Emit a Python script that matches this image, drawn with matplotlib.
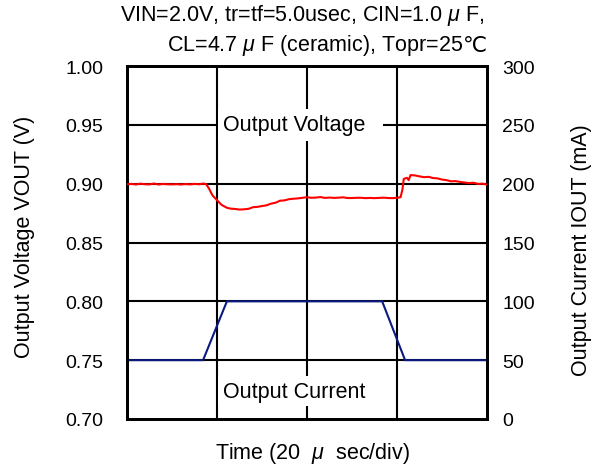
import matplotlib
matplotlib.use("Agg")
import matplotlib.pyplot as plt
from matplotlib.patches import Rectangle

plt.rcParams['font.family'] = ['Liberation Sans', 'DejaVu Sans']
plt.rcParams['mathtext.fontset'] = 'custom'
plt.rcParams['mathtext.rm'] = 'Liberation Sans'
plt.rcParams['mathtext.it'] = 'Liberation Sans:italic'

# Time axis in microseconds (20 us/div, 4 divisions)
v_time = [0, 1, 2, 3, 4, 5, 6, 7, 8, 9, 10, 11, 12, 13, 14, 15, 16, 17, 17.6, 18.2, 19,
          20, 21, 22.2, 23, 24, 25, 26, 27, 28, 29, 30, 31, 32, 33, 34, 35, 36, 37, 38,
          39, 40, 41, 42, 43, 44, 45, 46, 47, 48, 49, 50, 51, 52, 53, 54, 55, 56, 57, 58,
          59, 60, 60.8, 61.2, 61.5, 62.2, 62.6, 63, 64, 65, 66, 67, 68, 69, 70, 71, 72,
          73, 74, 75, 76, 77, 78, 79, 80]
v_out = [0.8995, 0.8998, 0.8993, 0.9000, 0.8995, 0.8994, 0.9001, 0.8993, 0.8998, 0.8995,
         0.8994, 0.8996, 0.8993, 0.8997, 0.8994, 0.8998, 0.8995, 0.9001, 0.8995,
         0.8960, 0.8900, 0.8860, 0.8820, 0.8795, 0.8788, 0.8785, 0.8780, 0.8782, 0.8786,
         0.8800, 0.8803, 0.8810, 0.8816, 0.8830, 0.8838, 0.8855, 0.8858, 0.8868, 0.8872,
         0.8875, 0.8880, 0.8885, 0.8880, 0.8882, 0.8886, 0.8879, 0.8882, 0.8879, 0.8881,
         0.8884, 0.8878, 0.8878, 0.8880, 0.8880, 0.8877, 0.8879, 0.8877, 0.8879, 0.8881,
         0.8878, 0.8877, 0.8880, 0.8885, 0.8950, 0.9040, 0.9050, 0.9030, 0.9073, 0.9070,
         0.9062, 0.9055, 0.9058, 0.9048, 0.9045, 0.9035, 0.9030, 0.9020, 0.9022, 0.9015,
         0.9010, 0.9005, 0.9008, 0.8998, 0.9000, 0.8992]

i_time = [0, 16.9, 22.2, 56.7, 61.8, 80]
i_out = [50, 50, 100, 100, 50, 50]

v_ticks = [0.70, 0.75, 0.80, 0.85, 0.90, 0.95, 1.00]
i_ticks = [0, 50, 100, 150, 200, 250, 300]
t_grid = [20, 40, 60]

W, H = 608, 477
fig = plt.figure(figsize=(W/100, H/100), dpi=100)
ax = fig.add_axes([127/W, 1-420/H, 360/W, 353/H])
ax2 = ax.twinx()

FS = 14
LFS = 15.5
ax.set_xlim(0, 80)
ax.set_ylim(0.70, 1.00)
ax2.set_ylim(0, 300)
ax.set_yticks(v_ticks)
ax.set_yticklabels([f"{v:.2f}" for v in v_ticks], fontsize=FS)
ax2.set_yticks(i_ticks)
ax2.set_yticklabels([str(v) for v in i_ticks], fontsize=FS)
ax.set_xticks([])
ax.tick_params(axis='y', length=0, pad=17)
ax2.tick_params(axis='y', length=0, pad=11)

# grid drawn on the back axes so both traces lie over it
for y in i_ticks[1:-1]:
    ax2.axhline(y, color='black', lw=1.5, zorder=1)
for x in t_grid:
    ax2.axvline(x, color='black', lw=1.5, zorder=1)

for a in (ax, ax2):
    for s in a.spines.values():
        s.set_linewidth(2.0)
        s.set_color('black')

ax2.plot(i_time, i_out, color='#0a1a80', lw=1.5, zorder=3)
ax.plot(v_time, v_out, color='#ff0000', lw=1.5, zorder=3)
ax.set_zorder(ax2.get_zorder() + 1)
ax.patch.set_visible(False)

# white label boxes
ax.add_patch(Rectangle((0.253, 0.7875), 0.458, 0.0905, transform=ax.transAxes,
                       facecolor='white', edgecolor='none', zorder=4))
ax.add_patch(Rectangle((0.253, 0.037), 0.44, 0.085, transform=ax.transAxes,
                       facecolor='white', edgecolor='none', zorder=4))
ax.text(0.267, 0.833, "Output Voltage", fontsize=LFS, va='center', ha='left',
        transform=ax.transAxes, zorder=5)
ax.text(0.267, 0.079, "Output Current", fontsize=LFS, va='center', ha='left',
        transform=ax.transAxes, zorder=5)

fig.text(25/W, 1-237/H, "Output Voltage VOUT (V)", fontsize=LFS, rotation=90,
         ha='center', va='center')
fig.text(581/W, 1-250/H, "Output Current IOUT (mA)", fontsize=LFS, rotation=90,
         ha='center', va='center')
fig.text(313/W, 1-454/H, r"Time (20  $\mu$  sec/div)", fontsize=LFS, ha='center', va='center')

fig.text(484/W, 1-15/H, r"VIN=2.0V, tr=tf=5.0usec, CIN=1.0 $\mu$ F,", fontsize=LFS,
         ha='right', va='center')
# second title line: degree-Celsius sign drawn as plain text (font fallback), rest with mathtext mu
deg = fig.text(487/W, 1-47/H, "℃", fontsize=LFS, ha='right', va='center')
renderer = fig.canvas.get_renderer()
bb = deg.get_window_extent(renderer=renderer)
fig.text(bb.x0/W, 1-46/H, r"CL=4.7 $\mu$ F (ceramic), Topr=25", fontsize=LFS,
         ha='right', va='center')

fig.savefig("out.png", dpi=100)
